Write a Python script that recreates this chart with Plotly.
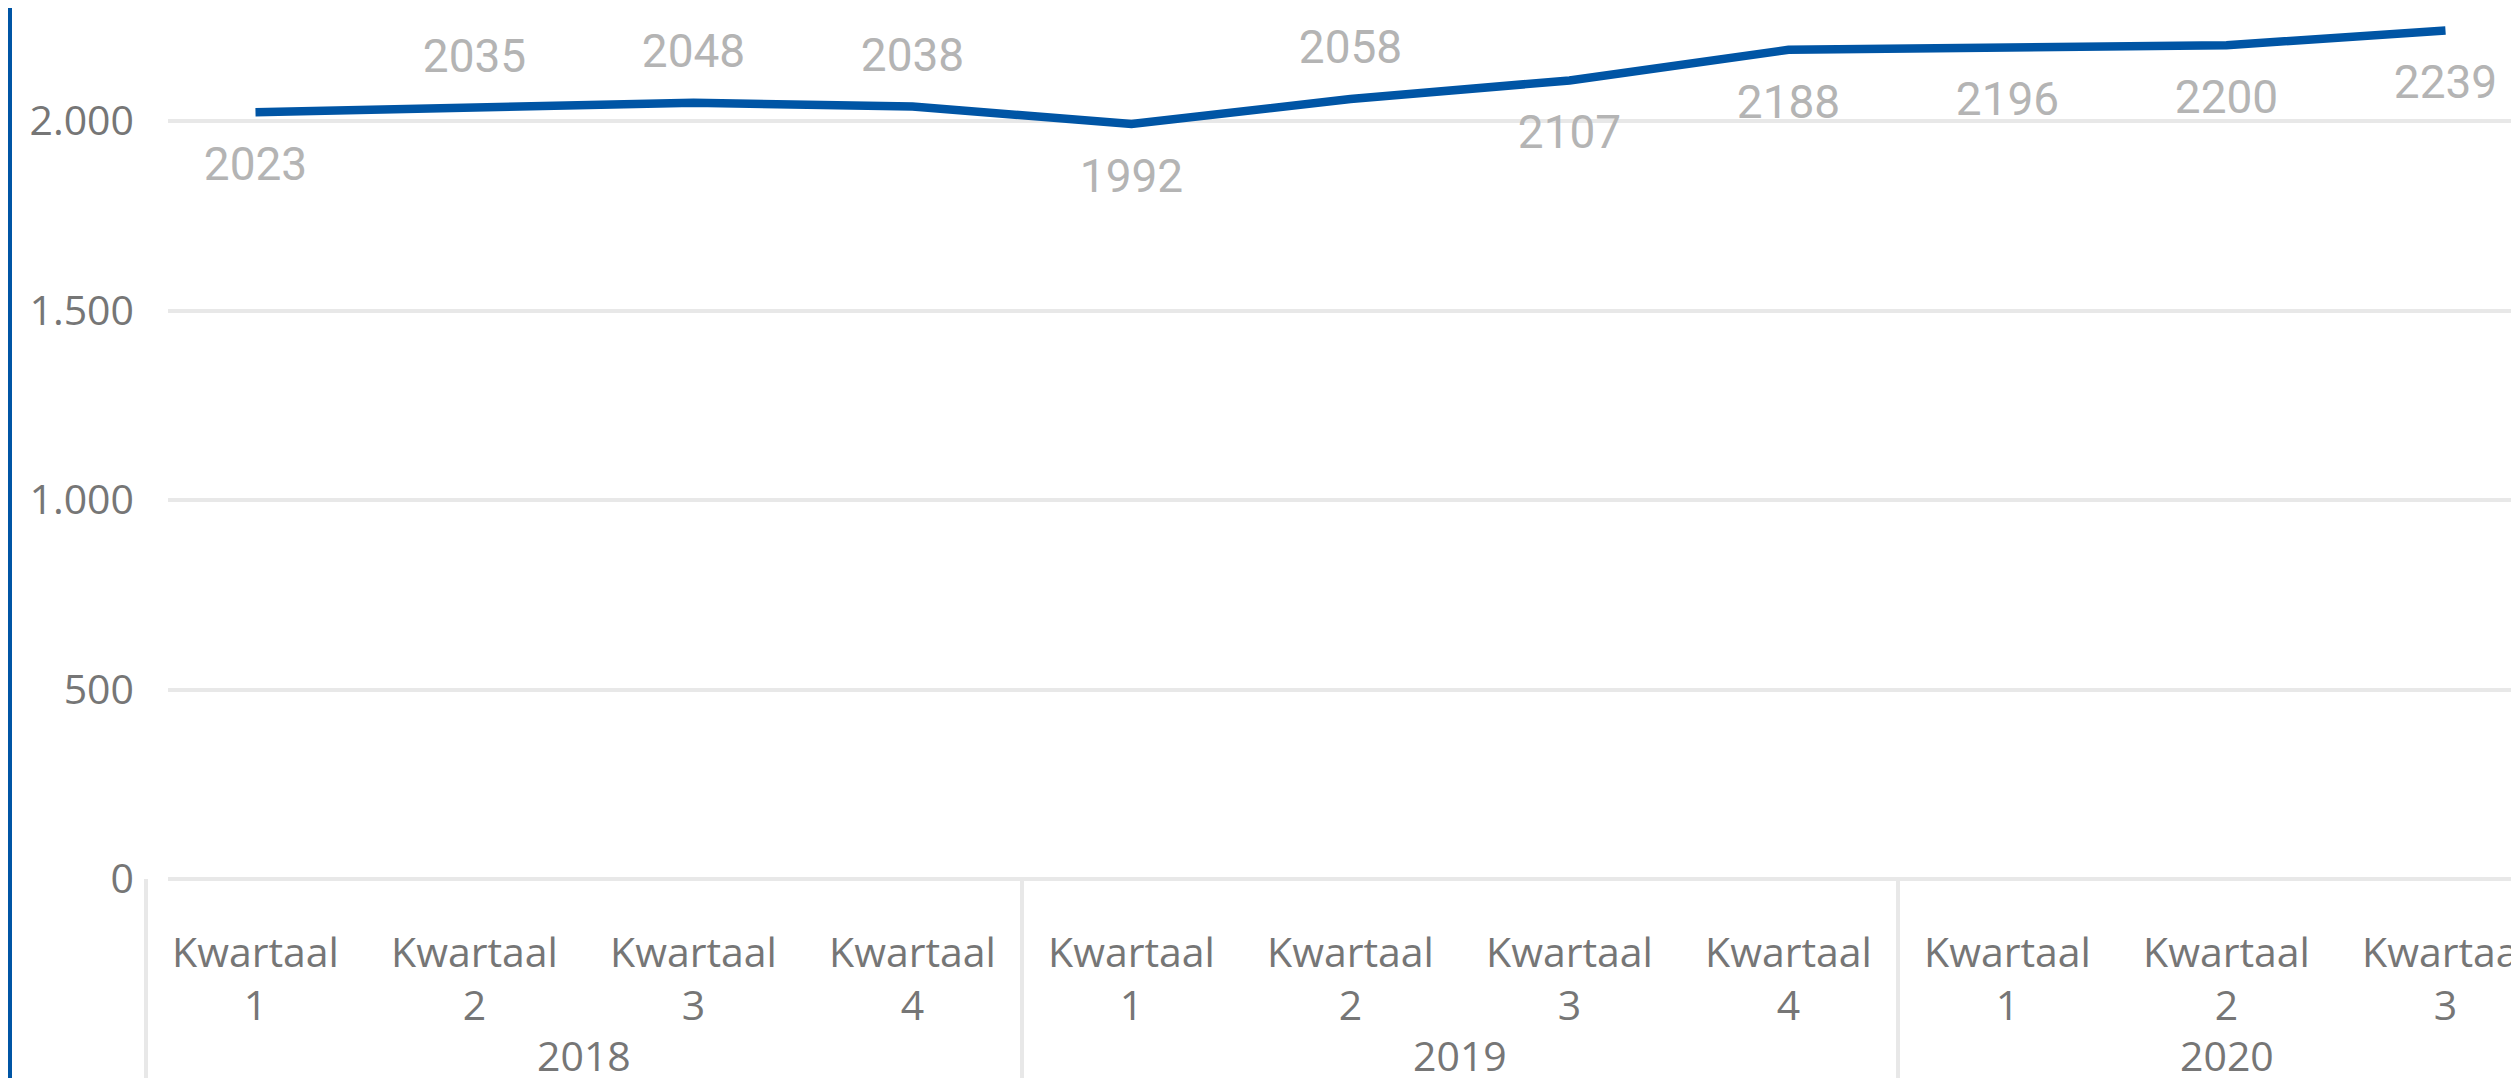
import plotly.graph_objects as go

# data
years = ['2018'] * 4 + ['2019'] * 4 + ['2020'] * 3
quarters = ['Kwartaal<br>1', 'Kwartaal<br>2', 'Kwartaal<br>3', 'Kwartaal<br>4',
            'Kwartaal<br>1', 'Kwartaal<br>2', 'Kwartaal<br>3', 'Kwartaal<br>4',
            'Kwartaal<br>1', 'Kwartaal<br>2', 'Kwartaal<br>3']
values = [2023, 2035, 2048, 2038, 1992, 2058, 2107, 2188, 2196, 2200, 2239]
label_pos = ['bottom', 'top', 'top', 'top', 'bottom', 'top',
             'bottom', 'bottom', 'bottom', 'bottom', 'bottom']
y_ticks = [0, 500, 1000, 1500, 2000]

# de pagina heeft 8px body-marge, dus figuur iets kleiner
W, H = 2511, 1070
ML, MB = 160, 199
plot_w = W - ML
plot_h = H - MB
cat_w = 219.0      # px per kwartaal
px_per_unit = 0.379
x_start = -0.5 + 22 / cat_w   # rasterlijnen beginnen iets rechts van de eerste scheiding
x_end = x_start + plot_w / cat_w

line_color = '#0055A5'
grid_color = '#E8E8E8'
tick_color = '#767676'
label_color = '#B4B4B4'

idx = list(range(len(values)))

# onzichtbare markers duwen de labels weg van de lijn
marker_sizes = [52 if p == 'bottom' else 37 for p in label_pos]

fig = go.Figure()
fig.add_trace(go.Scatter(
    x=idx, y=values,
    mode='lines+markers+text',
    line=dict(color=line_color, width=8.5),
    marker=dict(size=marker_sizes, color='rgba(0,0,0,0)', opacity=0,
                line=dict(width=0, color='rgba(0,0,0,0)')),
    text=[str(v) for v in values],
    textposition=[p + ' center' for p in label_pos],
    textfont=dict(family='Roboto', size=46, color=label_color),
    cliponaxis=False,
    hoverinfo='skip',
))

# jaargroepen: scheidingslijnen en jaarlabels
groups = []
for i, yr in enumerate(years):
    if not groups or groups[-1][0] != yr:
        groups.append([yr, i, i])
    else:
        groups[-1][2] = i

for yr, first, last in groups:
    xp = (first - 0.5 - x_start) / (x_end - x_start)
    fig.add_shape(type='line', xref='paper', yref='paper',
                  x0=xp, x1=xp, y0=0, y1=-MB / plot_h,
                  line=dict(color=grid_color, width=4), layer='below')
    fig.add_annotation(x=(first + last) / 2, y=-176 / plot_h,
                       xref='x', yref='paper', text=yr, showarrow=False,
                       xanchor='center', yanchor='middle',
                       font=dict(family='Open Sans', size=41, color=tick_color))

fig.update_xaxes(
    range=[x_start, x_end],
    automargin=False,
    tickvals=idx, ticktext=quarters,
    ticklabeloverflow='allow',
    showgrid=False, zeroline=False, showline=False,
    tickfont=dict(family='Open Sans', size=41, color=tick_color),
    ticks='', ticklabelstandoff=46,
)
fig.update_yaxes(
    range=[0, plot_h / px_per_unit],
    automargin=False,
    tickvals=y_ticks, tickformat=',',
    showgrid=True, gridcolor=grid_color, gridwidth=4,
    zeroline=True, zerolinecolor=grid_color, zerolinewidth=4,
    showline=False, ticks='',
    ticklabelstandoff=33,
    tickfont=dict(family='Open Sans', size=41, color=tick_color),
)

# blauwe rand links
fig.add_shape(type='rect', xref='paper', yref='paper',
              x0=-ML / plot_w, x1=-(ML - 4) / plot_w,
              y0=-MB / plot_h, y1=1,
              fillcolor=line_color, line=dict(width=0), layer='above')

fig.update_layout(
    width=W, height=H,
    margin=dict(l=ML, r=0, t=0, b=MB),
    paper_bgcolor='white', plot_bgcolor='white',
    separators=',.',
    showlegend=False,
)

fig.write_html("out.html")
